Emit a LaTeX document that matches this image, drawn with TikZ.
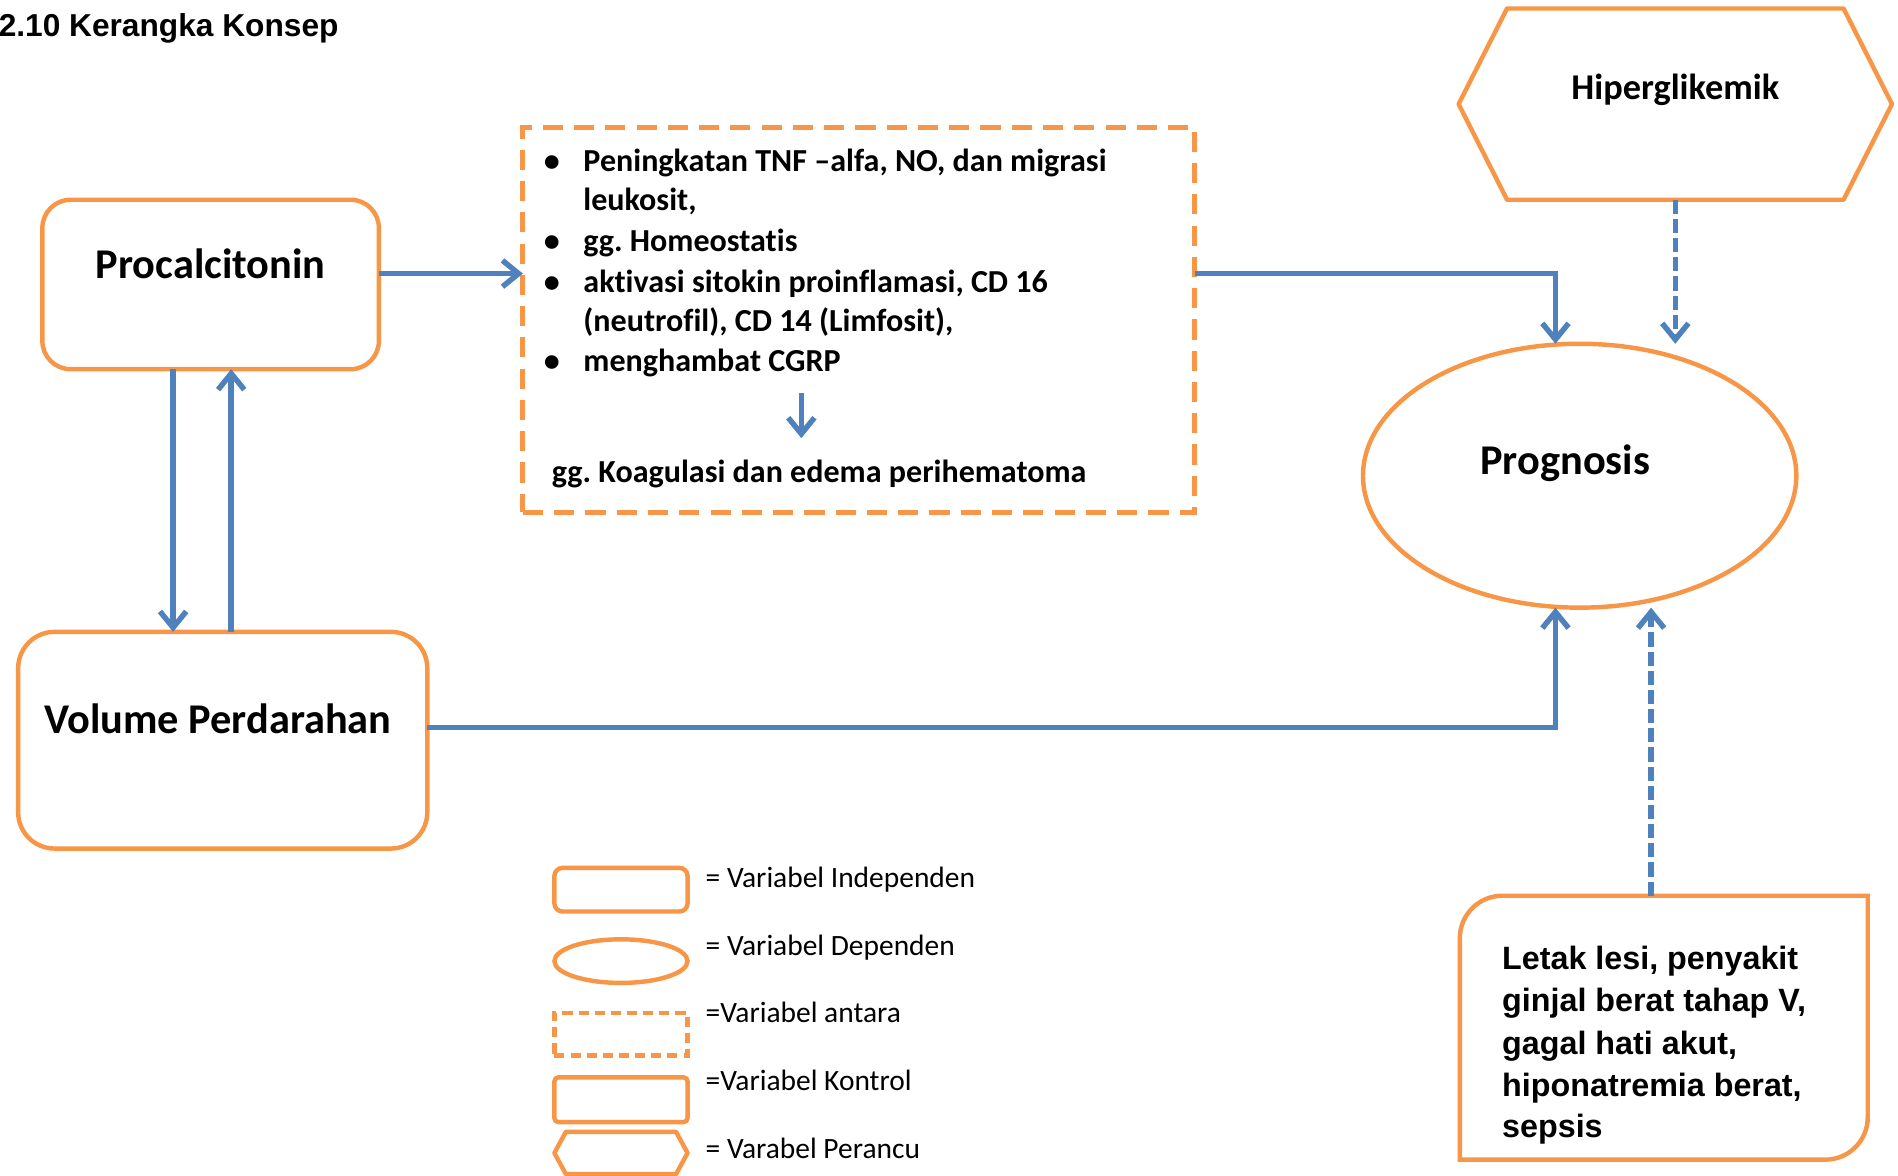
\documentclass[tikz,border=0pt]{standalone}
\usepackage{fontspec}
\setmainfont{Carlito}[Ligatures={TeX,NoCommon}]
\newfontfamily\arialfont{Liberation Sans}
\usetikzlibrary{arrows.meta,shapes.geometric}
\definecolor{orng}{HTML}{F79646}
\definecolor{bluec}{HTML}{4F81BD}
\frenchspacing
\tikzset{
  every node/.style={inner sep=0pt, outer sep=0pt},
  obox/.style={draw=orng, line width=2.2pt},
  odash/.style={obox, line width=2.5pt, dash pattern=on 10pt off 5.5pt},
  arr/.style={draw=bluec, line width=2.7pt, -{Straight Barb[length=8pt,width=13pt]}},
  darr/.style={arr, dash pattern=on 7pt off 2.5pt},
  lst/.style={font=\bfseries\fontsize{15.9}{19}\selectfont, anchor=base west},
  big/.style={font=\bfseries\fontsize{21}{25}\selectfont, anchor=base},
  leg/.style={font=\fontsize{14.6}{17}\selectfont, anchor=base west},
  artxt/.style={font=\arialfont\bfseries\fontsize{16}{19}\selectfont, anchor=base west},
}
\begin{document}
\begin{tikzpicture}[x=0.6pt,y=-0.6pt]
\useasboundingbox (0,0) rectangle (1568,971);

% title
\node[font=\arialfont\bfseries\fontsize{15.7}{18}\selectfont, anchor=base west] (title) at (-1,30) {2.10 Kerangka Konsep};

% helper coordinates
\coordinate (cA) at (143,0);
\coordinate (cB) at (191,0);
\coordinate (yA) at (0,226);
\coordinate (yV) at (0,601);
\coordinate (xP) at (1285,0);
\coordinate (xH) at (1384,0);
\coordinate (xL) at (1364,0);
\coordinate (s1) at (662,325);
\coordinate (s2) at (662,362);

% Procalcitonin
\node[obox, rounded corners=14pt, minimum width=166.8pt, minimum height=84pt] (proc) at (174,235) {};
\node[big] (procT) at (174,230) {Procalcitonin};

% Volume Perdarahan
\node[obox, rounded corners=18pt, minimum width=202.8pt, minimum height=107.4pt] (vol) at (184,611.5) {};
\node[big] (volT) at (180,606) {Volume Perdarahan};

% intermediate dashed box
\node[odash, minimum width=333pt, minimum height=190.8pt] (med) at (709.5,264) {};
\node[lst, anchor=base] (b1) at (456,142) {•};
\node[lst] (t1) at (482,142) {Peningkatan TNF –alfa, NO, dan migrasi};
\node[lst] (t1b) at (482,174) {leukosit,};
\node[lst, anchor=base] (b2) at (456,208) {•};
\node[lst] (t2) at (482,208) {gg. Homeostatis};
\node[lst, anchor=base] (b3) at (456,242) {•};
\node[lst] (t3) at (482,242) {aktivasi sitokin proinflamasi, CD 16};
\node[lst] (t3b) at (482,274) {(neutrofil), CD 14 (Limfosit),};
\node[lst, anchor=base] (b4) at (456,307) {•};
\node[lst] (t4) at (482,307) {menghambat CGRP};
\node[lst] (t5) at (456,399) {gg. Koagulasi dan edema perihematoma};

% Hiperglikemik hexagon
\node[minimum width=214.8pt, minimum height=94.8pt] (hexa) at (1384,86) {};
\draw[obox, line join=round] (hexa.west) -- ([xshift=24pt]hexa.north west) -- ([xshift=-24pt]hexa.north east) -- (hexa.east) -- ([xshift=-24pt]hexa.south east) -- ([xshift=24pt]hexa.south west) -- cycle;
\node[font=\bfseries\fontsize{18}{22}\selectfont, anchor=base] (hexaT) at (1384,82) {Hiperglikemik};

% Prognosis ellipse
\node[obox, ellipse, minimum width=214.8pt, minimum height=130.8pt] (prog) at (1305,393) {};
\node[big] (progT) at (1293,392) {Prognosis};

% Control box
\node[minimum width=202.2pt, minimum height=130.8pt] (lbox) at (1374.5,849) {};
\draw[obox] ([yshift=-21pt]lbox.north west) arc[start angle=180,end angle=90,radius=21pt] -- (lbox.north east) -- ([yshift=21pt]lbox.south east) arc[start angle=0,end angle=-90,radius=21pt] -- (lbox.south west) -- cycle;
\node[artxt] (l1) at (1241,801) {Letak lesi, penyakit};
\node[artxt] (l2) at (1241,836) {ginjal berat tahap V,};
\node[artxt] (l3) at (1241,871) {gagal hati akut,};
\node[artxt] (l4) at (1241,906) {hiponatremia berat,};
\node[artxt] (l5) at (1241,940) {sepsis};

% connectors
\draw[arr] (proc.south -| cA) -- (vol.north -| cA);
\draw[arr] (vol.north -| cB) -- (proc.south -| cB);
\draw[arr] (proc.east |- yA) -- (med.west |- yA);
\draw[arr] (s1) -- (s2);
\draw[arr] (med.east |- yA) -| (prog.north -| xP);
\draw[arr] (vol.east |- yV) -| (prog.south -| xP);
\draw[darr] (hexa.south -| xH) -- (prog.north -| xH);
\draw[darr] (lbox.north -| xL) -- (prog.south -| xL);

% legend
\node[obox, rounded corners=4pt, minimum width=66pt, minimum height=21.6pt] (lg1) at (513,735) {};
\node[obox, ellipse, minimum width=66pt, minimum height=21.6pt] (lg2) at (513,794) {};
\node[obox, dash pattern=on 5pt off 3pt, minimum width=66pt, minimum height=21pt] (lg3) at (513,854.5) {};
\node[obox, rounded corners=2pt, minimum width=66pt, minimum height=22.2pt] (lg4) at (513,908.5) {};
\node[minimum width=66pt, minimum height=21pt] (lg5) at (513,952.5) {};
\draw[obox, line join=round] (lg5.west) -- ([xshift=5.7pt]lg5.north west) -- ([xshift=-5.7pt]lg5.north east) -- (lg5.east) -- ([xshift=-5.7pt]lg5.south east) -- ([xshift=5.7pt]lg5.south west) -- cycle;
\node[leg] (lt1) at (583,733) {= Variabel Independen};
\node[leg] (lt2) at (583,789) {= Variabel Dependen};
\node[leg] (lt3) at (583,845) {=Variabel antara};
\node[leg] (lt4) at (583,901) {=Variabel Kontrol};
\node[leg] (lt5) at (583,957) {= Varabel Perancu};
\end{tikzpicture}
\end{document}
